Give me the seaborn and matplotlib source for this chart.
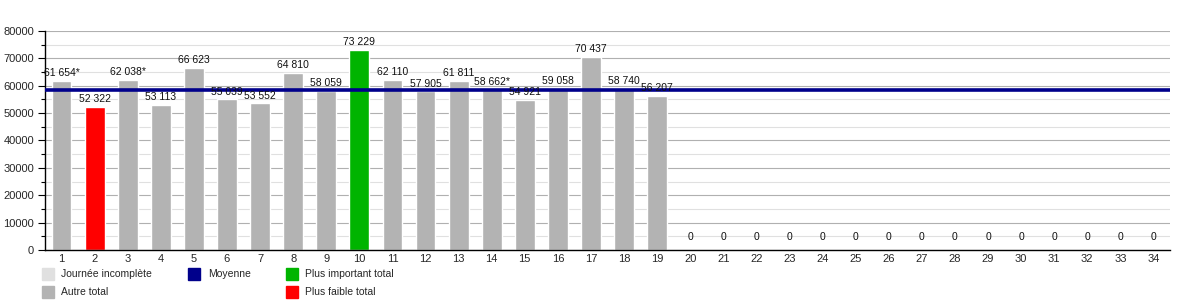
import matplotlib
matplotlib.use("Agg")
import matplotlib.pyplot as plt
import seaborn as sns
import numpy as np
from matplotlib.patches import Rectangle

days = [str(i) for i in range(1, 35)]
values = [61654, 52322, 62038, 53113, 66623, 55039, 53552, 64810, 58059, 73229,
          62110, 57905, 61811, 58662, 54921, 59058, 70437, 58740, 56207] + [0] * 15
incomplete = [1, 3, 14]  # days flagged with *
mean_value = 58300
legend_labels = ["Journée incomplète", "Autre total", "Moyenne",
                 "Plus important total", "Plus faible total"]

C_INC = "#e0e0e0"
C_OTHER = "#b3b3b3"
C_MEAN = "#00008b"
C_MAX = "#00b400"
C_MIN = "#ff0000"

sns.set_theme(style="white")
plt.rcParams["font.family"] = ["Liberation Sans", "DejaVu Sans"]

fig = plt.figure(figsize=(12, 3), dpi=100)
ax = fig.add_axes([0.0375, 0.1667, 0.9375, 0.73])

vmax = max(values)
vmin = min(v for v in values if v > 0)
colors = []
for v in values:
    if v == vmax:
        colors.append(C_MAX)
    elif v == vmin:
        colors.append(C_MIN)
    else:
        colors.append(C_OTHER)

sns.barplot(x=days, y=values, hue=days, palette=colors, legend=False,
            width=0.6, saturation=1, ax=ax, zorder=2)

ax.set_ylim(0, 80000)
ax.set_xlim(-0.5, 33.5)
ax.set_yticks(np.arange(0, 80001, 10000))
ax.set_yticks(np.arange(5000, 80000, 10000), minor=True)
ax.grid(which="major", axis="y", color="#b0b0b0", lw=0.8, zorder=0)
ax.grid(which="minor", axis="y", color="#e0e0e0", lw=0.8, zorder=0)
ax.set_axisbelow(True)
ax.tick_params(axis="y", which="major", length=5, width=0.8, color="black",
               labelsize=8, pad=3, left=True)
ax.tick_params(axis="y", which="minor", length=3, width=0.8, color="black", left=True)
ax.tick_params(axis="x", length=0, labelsize=8, pad=3)
ax.set_xlabel("")
ax.set_ylabel("")
for s in ["top", "right"]:
    ax.spines[s].set_visible(False)
for s in ["left", "bottom"]:
    ax.spines[s].set_color("black")
    ax.spines[s].set_linewidth(1)

ax.axhline(mean_value, color=C_MEAN, lw=2.6, zorder=3)

for i, v in enumerate(values):
    lab = f"{v:,}".replace(",", " ")
    if (i + 1) in incomplete:
        lab += "*"
    off = 6 if v == 0 else 2
    ax.annotate(lab, (i, v), xytext=(0, off), textcoords="offset points",
                ha="center", va="bottom", fontsize=7.5, color="#111111", zorder=4)

# legend
W, H = 1200, 300
def swatch(x, y, color, text, tx):
    fig.patches.append(Rectangle((x / W, 1 - (y + 6) / H), 12 / W, 12 / H,
                                 transform=fig.transFigure, color=color, figure=fig))
    fig.text(tx / W, 1 - y / H, text, fontsize=7.5, va="center", ha="left")

swatch(42, 274, C_INC, legend_labels[0], 61)
swatch(42, 292, C_OTHER, legend_labels[1], 61)
swatch(188, 274, C_MEAN, legend_labels[2], 208)
swatch(286, 274, C_MAX, legend_labels[3], 305)
swatch(286, 292, C_MIN, legend_labels[4], 305)

fig.savefig("out.png", dpi=100)
